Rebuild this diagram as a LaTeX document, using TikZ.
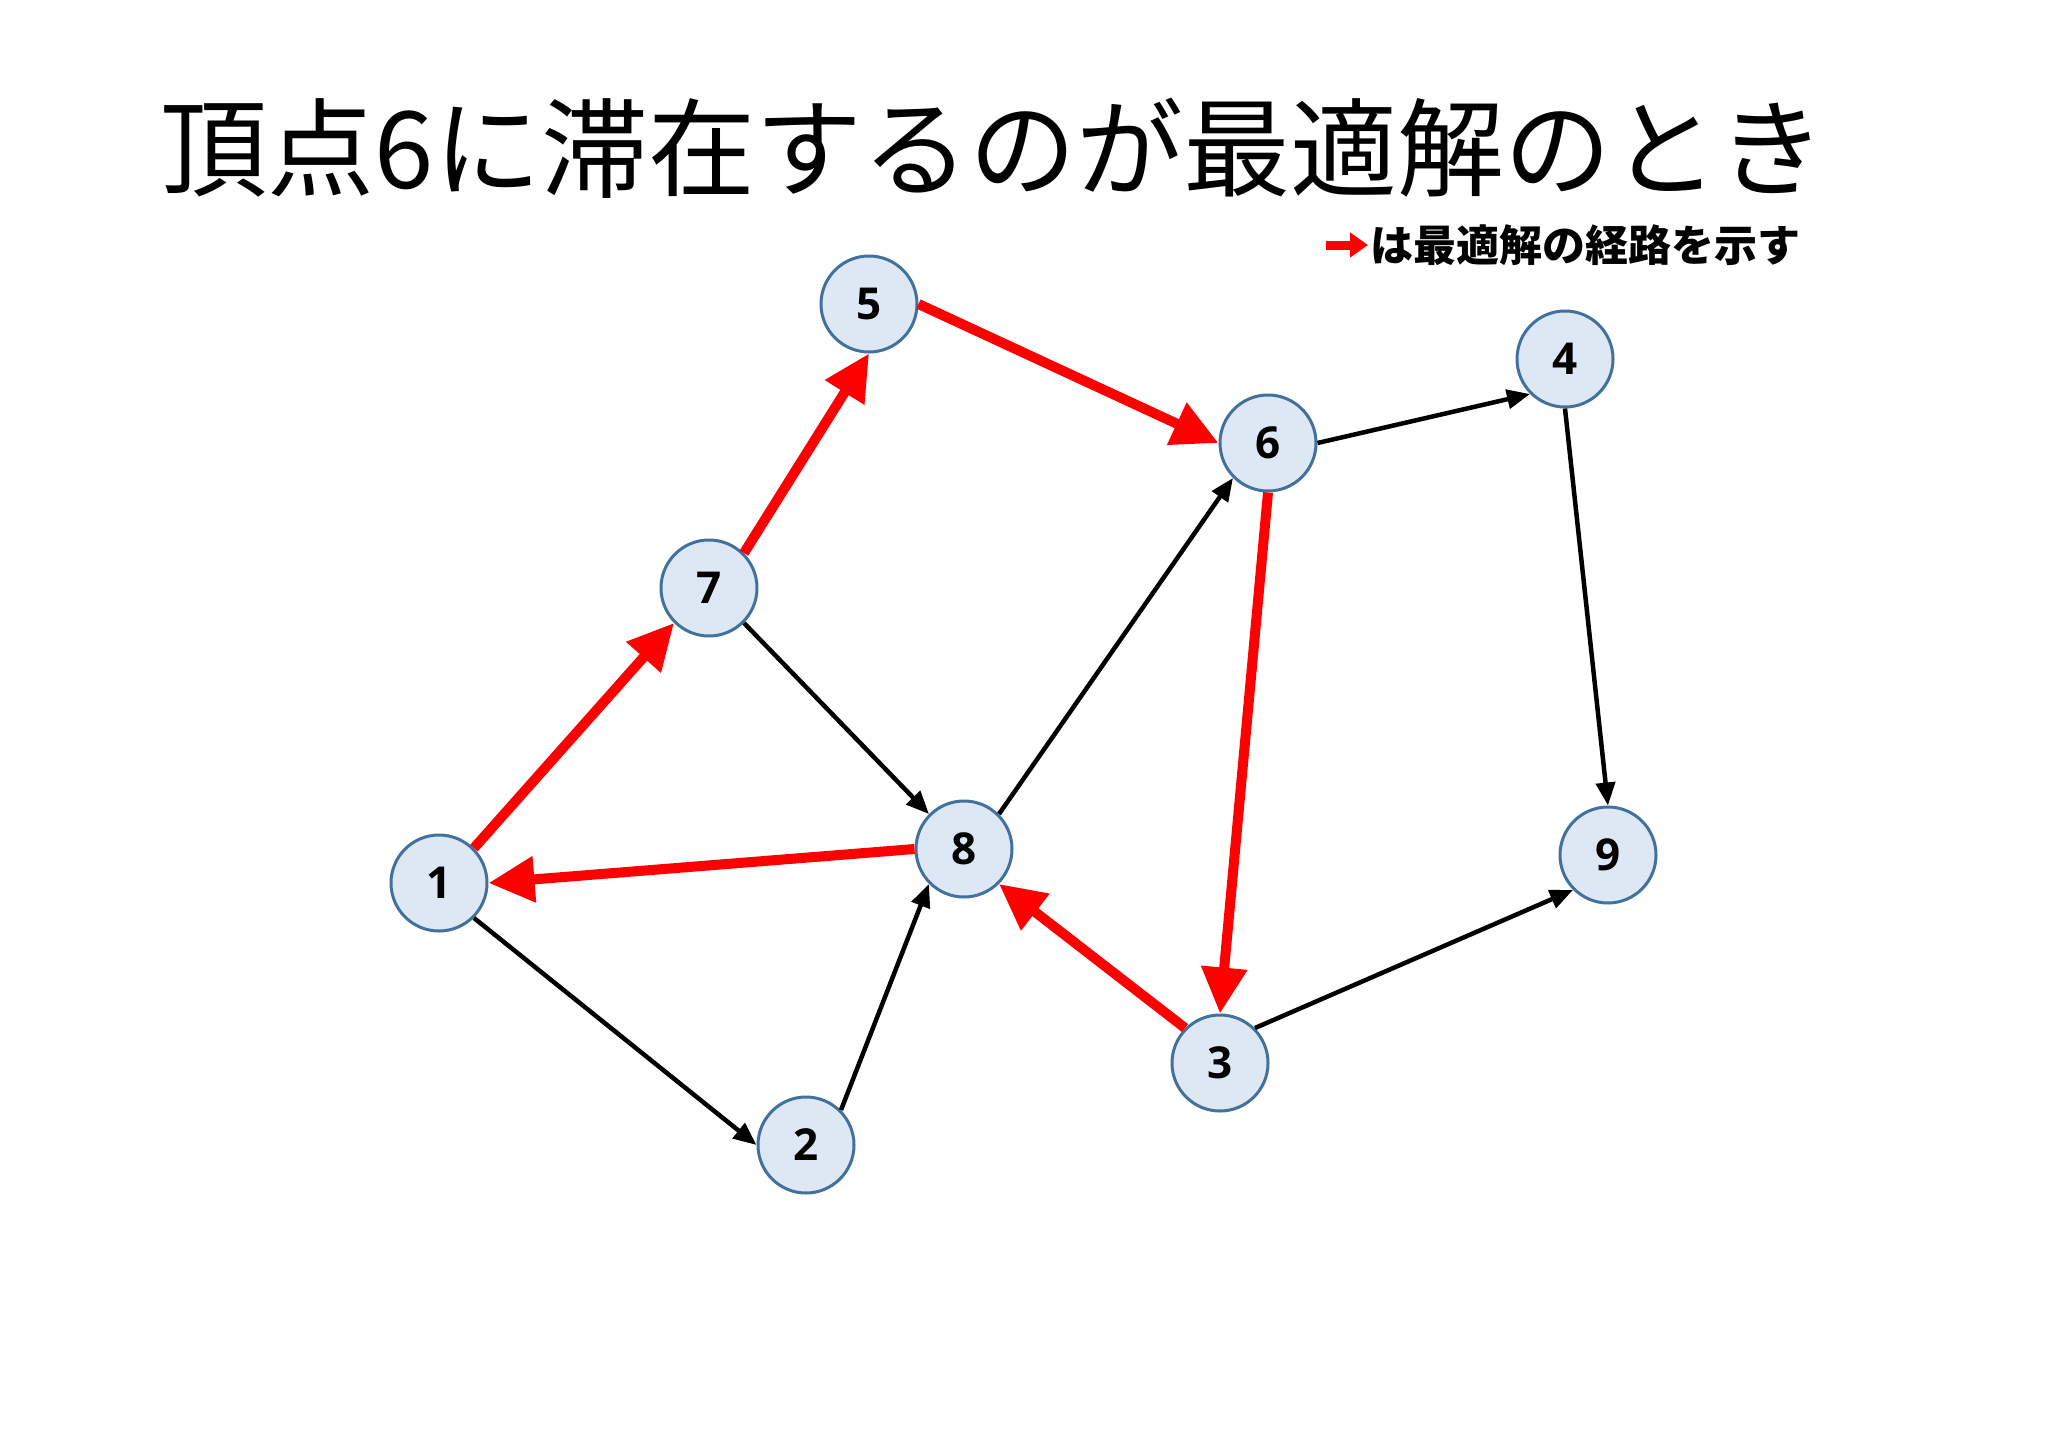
\documentclass[tikz,border=0pt]{standalone}
\usepackage{fontspec}
\setmainfont{Open Sans}
\newfontfamily\numfont{Open Sans}[BoldFont={* Bold}]
\newfontfamily\jpfont{Noto Sans CJK JP}
\usetikzlibrary{arrows.meta}
\definecolor{nodefill}{HTML}{DEE8F5}
\definecolor{nodeedge}{HTML}{41719C}
\begin{document}
\begin{tikzpicture}[x=1pt,y=-1pt,
  vtx/.style={circle,draw=nodeedge,line width=3pt,fill=nodefill,minimum size=96pt,inner sep=0pt,font=\numfont\bfseries\fontsize{44}{44}\selectfont},
  redarc/.style={draw=red,line width=10pt,-{Triangle[length=46pt,width=44pt]}},
  blkarc/.style={draw=black,line width=4.5pt,-{Triangle[length=23pt,width=19pt]}}]
\useasboundingbox (0,0) rectangle (2048,1448);
\fill[white] (0,0) rectangle (2048,1448);
\node[font=\jpfont\fontsize{107}{107}\selectfont] (title) at (993,148) {頂点6に滞在するのが最適解のとき};
\coordinate (la) at (1326,245);
\coordinate (lb) at (1368,245);
\draw[draw=red,line width=9pt,-{Triangle[length=18pt,width=24pt]}] (la) -- (lb);
\node[font=\jpfont\bfseries\fontsize{43}{43}\selectfont,anchor=west,inner sep=0pt] (legend) at (1370,245) {は最適解の経路を示す};
\node[vtx] (n1) at (439,883) {1};
\node[vtx] (n2) at (806,1145) {2};
\node[vtx] (n3) at (1220,1063) {3};
\node[vtx] (n4) at (1565,359) {4};
\node[vtx] (n5) at (869,304) {5};
\node[vtx] (n6) at (1268,443) {6};
\node[vtx] (n7) at (709,588) {7};
\node[vtx] (n8) at (964,849) {8};
\node[vtx] (n9) at (1608,855) {9};
\draw[blkarc] (n1.south east) -- (n2.west);
\draw[blkarc] (n2.north east) -- (n8.south west);
\draw[blkarc] (n7.south east) -- (n8.north west);
\draw[blkarc] (n8.north east) -- (n6.south west);
\draw[blkarc] (n6.east) -- (n4.south west);
\draw[blkarc] (n4.south) -- (n9.north);
\draw[blkarc] (n3.north east) -- (n9.south west);
\draw[redarc] (n1.north east) -- (n7.south west);
\draw[redarc] (n7.north east) -- (n5.south);
\draw[redarc] (n5.east) -- (n6.west);
\draw[redarc] (n6.south) -- (n3.north);
\draw[redarc] (n3.north west) -- (n8.south east);
\draw[redarc] (n8.west) -- (n1.east);
\end{tikzpicture}
\end{document}
